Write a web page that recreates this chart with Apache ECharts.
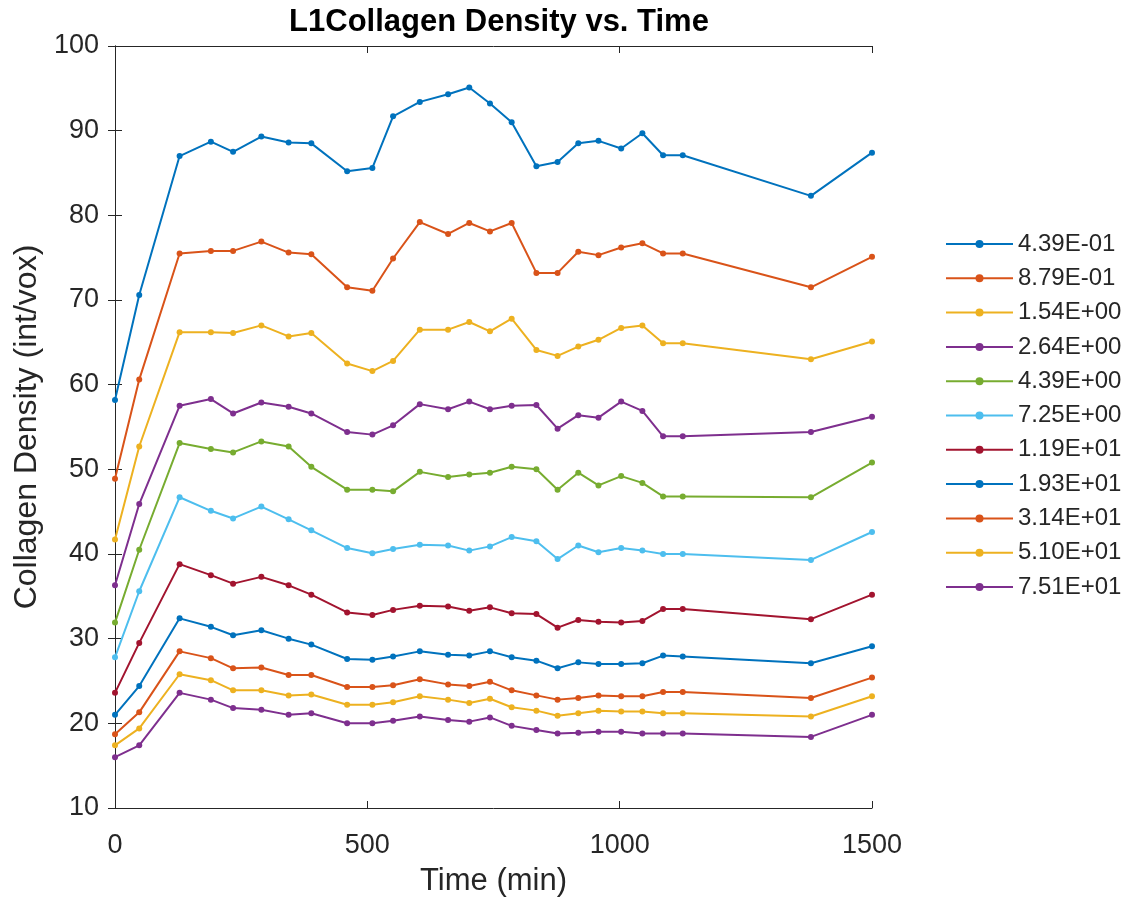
<!DOCTYPE html>
<html>
<head>
<meta charset="utf-8">
<script src="https://cdn.jsdelivr.net/npm/echarts@6/dist/echarts.min.js"></script>
<style>
  html, body { margin: 0; padding: 0; background: #fff; }
  #chart { width: 1134px; height: 905px; }
</style>
</head>
<body>
<div id="chart"></div>
<script>
// time points (min)
let times = [0, 48, 128, 190, 234, 290, 344, 389, 460, 510, 551, 604, 660, 702, 743, 786, 835, 877, 918, 958, 1003, 1045, 1086, 1125, 1379, 1500];

let names = ['4.39E-01', '8.79E-01', '1.54E+00', '2.64E+00', '4.39E+00', '7.25E+00', '1.19E+01', '1.93E+01', '3.14E+01', '5.10E+01', '7.51E+01'];

let s1 = [58.2, 70.6, 87.0, 88.7, 87.5, 89.3, 88.6, 88.5, 85.2, 85.6, 91.7, 93.4, 94.3, 95.1, 93.2, 91.0, 85.8, 86.3, 88.5, 88.8, 87.9, 89.7, 87.1, 87.1, 82.3, 87.4];
let s2 = [48.9, 60.6, 75.5, 75.8, 75.8, 76.9, 75.6, 75.4, 71.5, 71.1, 74.9, 79.2, 77.8, 79.1, 78.1, 79.1, 73.2, 73.2, 75.7, 75.3, 76.2, 76.7, 75.5, 75.5, 71.5, 75.1];
let s3 = [41.7, 52.7, 66.2, 66.2, 66.1, 67.0, 65.7, 66.1, 62.5, 61.6, 62.8, 66.5, 66.5, 67.4, 66.3, 67.8, 64.1, 63.4, 64.5, 65.3, 66.7, 67.0, 64.9, 64.9, 63.0, 65.1];
let s4 = [36.3, 45.9, 57.5, 58.3, 56.6, 57.9, 57.4, 56.6, 54.4, 54.1, 55.2, 57.7, 57.1, 58.0, 57.1, 57.5, 57.6, 54.8, 56.4, 56.1, 58.0, 56.9, 53.9, 53.9, 54.4, 56.2];
let s5 = [31.9, 40.5, 53.1, 52.4, 52.0, 53.3, 52.7, 50.3, 47.6, 47.6, 47.4, 49.7, 49.1, 49.4, 49.6, 50.3, 50.0, 47.6, 49.6, 48.1, 49.2, 48.4, 46.8, 46.8, 46.7, 50.8];
let s6 = [27.8, 35.6, 46.7, 45.1, 44.2, 45.6, 44.1, 42.8, 40.7, 40.1, 40.6, 41.1, 41.0, 40.4, 40.9, 42.0, 41.5, 39.4, 41.0, 40.2, 40.7, 40.4, 40.0, 40.0, 39.3, 42.6];
let s7 = [23.6, 29.5, 38.8, 37.5, 36.5, 37.3, 36.3, 35.2, 33.1, 32.8, 33.4, 33.9, 33.8, 33.3, 33.7, 33.0, 32.9, 31.3, 32.2, 32.0, 31.9, 32.1, 33.5, 33.5, 32.3, 35.2];
let s8 = [21.0, 24.4, 32.4, 31.4, 30.4, 31.0, 30.0, 29.3, 27.6, 27.5, 27.9, 28.5, 28.1, 28.0, 28.5, 27.8, 27.4, 26.5, 27.2, 27.0, 27.0, 27.1, 28.0, 27.9, 27.1, 29.1];
let s9 = [18.7, 21.3, 28.5, 27.7, 26.5, 26.6, 25.7, 25.7, 24.3, 24.3, 24.5, 25.2, 24.6, 24.4, 24.9, 23.9, 23.3, 22.8, 23.0, 23.3, 23.2, 23.2, 23.7, 23.7, 23.0, 25.4];
let s10 = [17.4, 19.4, 25.8, 25.1, 23.9, 23.9, 23.3, 23.4, 22.2, 22.2, 22.5, 23.2, 22.8, 22.4, 22.9, 21.9, 21.5, 20.9, 21.2, 21.5, 21.4, 21.4, 21.2, 21.2, 20.8, 23.2];
let s11 = [16.0, 17.4, 23.6, 22.8, 21.8, 21.6, 21.0, 21.2, 20.0, 20.0, 20.3, 20.8, 20.4, 20.2, 20.7, 19.7, 19.2, 18.8, 18.9, 19.0, 19.0, 18.8, 18.8, 18.8, 18.4, 21.0];

let allSeries = [s1, s2, s3, s4, s5, s6, s7, s8, s9, s10, s11];
let colors = ['#0072BD', '#D95319', '#EDB120', '#7E2F8E', '#77AC30', '#4DBEEE', '#A2142F', '#0072BD', '#D95319', '#EDB120', '#7E2F8E'];

let chart = echarts.init(document.querySelector('#chart'));

let font = '"Liberation Sans", Arial, sans-serif';
let axisColor = '#262626';

// small round markers on every sample
let series = allSeries.map((vals, i) => ({
  name: names[i],
  type: 'line',
  data: vals.map((v, j) => [times[j], v]),
  symbol: 'circle',
  symbolSize: 6,
  showSymbol: true,
  lineStyle: { width: 2, color: colors[i] },
  itemStyle: { color: colors[i] },
  animation: false
}));

chart.setOption({
  color: colors,
  title: {
    text: 'L1Collagen Density vs. Time',
    left: 494,
    textAlign: 'center',
    top: 2,
    textStyle: { fontFamily: font, fontSize: 31, fontWeight: 'bold', color: '#000' }
  },
  legend: {
    orient: 'vertical',
    left: 940,
    top: 227,
    itemWidth: 67,
    itemHeight: 10,
    itemGap: 10.3,
    textStyle: { fontFamily: font, fontSize: 24, color: axisColor, lineHeight: 24 },
    data: names
  },
  grid: { left: 115, top: 46, right: 262, bottom: 97 },
  xAxis: [{
    type: 'value',
    min: 0,
    max: 1500,
    interval: 500,
    name: 'Time (min)',
    nameLocation: 'middle',
    nameGap: 58,
    nameTextStyle: { fontFamily: font, fontSize: 31, color: axisColor },
    axisLine: { onZero: false, lineStyle: { color: axisColor, width: 1 } },
    axisTick: { inside: true, length: 7, lineStyle: { color: axisColor } },
    axisLabel: { fontFamily: font, fontSize: 27, color: axisColor, margin: 24, formatter: v => String(v) },
    splitLine: { show: false }
  }, {
    type: 'value',
    position: 'top',
    min: 0,
    max: 1500,
    interval: 500,
    axisLine: { show: true, lineStyle: { color: axisColor, width: 1 } },
    axisTick: { inside: true, length: 7, lineStyle: { color: axisColor } },
    axisLabel: { show: false },
    splitLine: { show: false }
  }],
  yAxis: [{
    type: 'value',
    min: 10,
    max: 100,
    interval: 10,
    name: 'Collagen Density (int/vox)',
    nameLocation: 'middle',
    nameGap: 71,
    nameTextStyle: { fontFamily: font, fontSize: 32, color: axisColor },
    axisLine: { show: true, lineStyle: { color: axisColor, width: 1 } },
    axisTick: { show: true, inside: true, length: 7, lineStyle: { color: axisColor } },
    axisLabel: { fontFamily: font, fontSize: 27, color: axisColor, margin: 16 },
    splitLine: { show: false }
  }, {
    type: 'value',
    position: 'right',
    min: 10,
    max: 100,
    interval: 10,
    axisLine: { show: true, lineStyle: { color: axisColor, width: 1 } },
    axisTick: { show: true, inside: true, length: 7, lineStyle: { color: axisColor } },
    axisLabel: { show: false },
    splitLine: { show: false }
  }],
  series: series
});
</script>
</body>
</html>
